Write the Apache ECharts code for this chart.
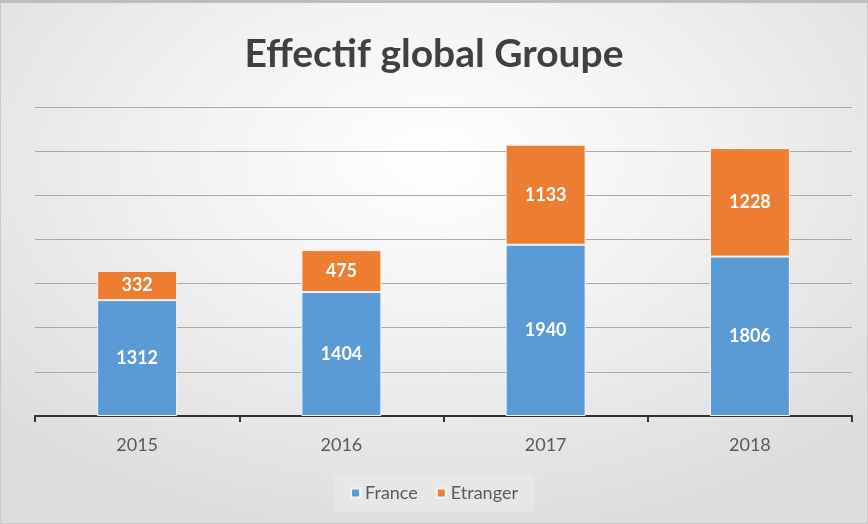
<!DOCTYPE html>
<html>
<head>
<meta charset="utf-8">
<script src="https://cdn.jsdelivr.net/npm/echarts@6/dist/echarts.min.js"></script>
<style>
html,body{margin:0;padding:0;}
#wrap{width:868px;height:524px;position:relative;box-sizing:border-box;border:1px solid #c8c8c8;border-top:3px solid #bdbdbd;
background:radial-gradient(ellipse 70% 75% at 50% 30%, #ffffff 0%, #f1f1f1 45%, #dcdcdc 100%);}
#chart{width:868px;height:524px;position:absolute;left:-1px;top:-3px;}
</style>
</head>
<body>
<div id="wrap"><div id="chart"></div></div>
<script>
const categories = ['2015', '2016', '2017', '2018'];
const france = [1312, 1404, 1940, 1806];
const etranger = [332, 475, 1133, 1228];
const yTicks = [0, 500, 1000, 1500, 2000, 2500, 3000, 3500];

const FONT = 'Lato, "Open Sans", sans-serif';
const chart = echarts.init(document.getElementById('chart'), null, {renderer: 'canvas'});
const labelStyle = {show: true, position: 'inside', color: '#ffffff', fontSize: 18, fontFamily: FONT, fontWeight: 'bold'};
chart.setOption({
  backgroundColor: 'transparent',
  animation: false,
  title: {
    text: 'Effectif global Groupe', left: 'center', top: 30,
    textStyle: {fontSize: 39, fontWeight: 'bold', color: '#404040', fontFamily: FONT}
  },
  legend: {
    data: ['France', 'Etranger'], bottom: 12, left: 'center',
    itemWidth: 9, itemHeight: 9, itemGap: 18, icon: 'rect',
    backgroundColor: 'rgba(232,232,232,0.85)', borderColor: '#e4e4e4', borderWidth: 1, padding: [10, 16],
    textStyle: {fontSize: 18, color: '#595959', fontFamily: FONT}
  },
  grid: {left: 35, right: 16, top: 107, bottom: 108},
  xAxis: {
    type: 'category', data: categories,
    axisLine: {lineStyle: {color: '#333333', width: 2}},
    axisTick: {show: true, length: 6, lineStyle: {color: '#333333', width: 2}},
    axisLabel: {fontSize: 18, color: '#595959', margin: 20, fontFamily: FONT}
  },
  yAxis: {
    type: 'value', min: yTicks[0], max: yTicks[yTicks.length - 1], interval: 500,
    axisLabel: {show: false}, axisLine: {show: false}, axisTick: {show: false},
    splitLine: {lineStyle: {color: '#a8a8a8', width: 1}}
  },
  series: [
    {name: 'France', type: 'bar', stack: 'total', data: france, barWidth: 80,
      itemStyle: {color: '#5B9BD5', borderColor: '#f4f4f4', borderWidth: 1}, label: labelStyle},
    {name: 'Etranger', type: 'bar', stack: 'total', data: etranger, barWidth: 80,
      itemStyle: {color: '#ED7D31', borderColor: '#f4f4f4', borderWidth: 1}, label: labelStyle}
  ]
});
</script>
</body>
</html>
